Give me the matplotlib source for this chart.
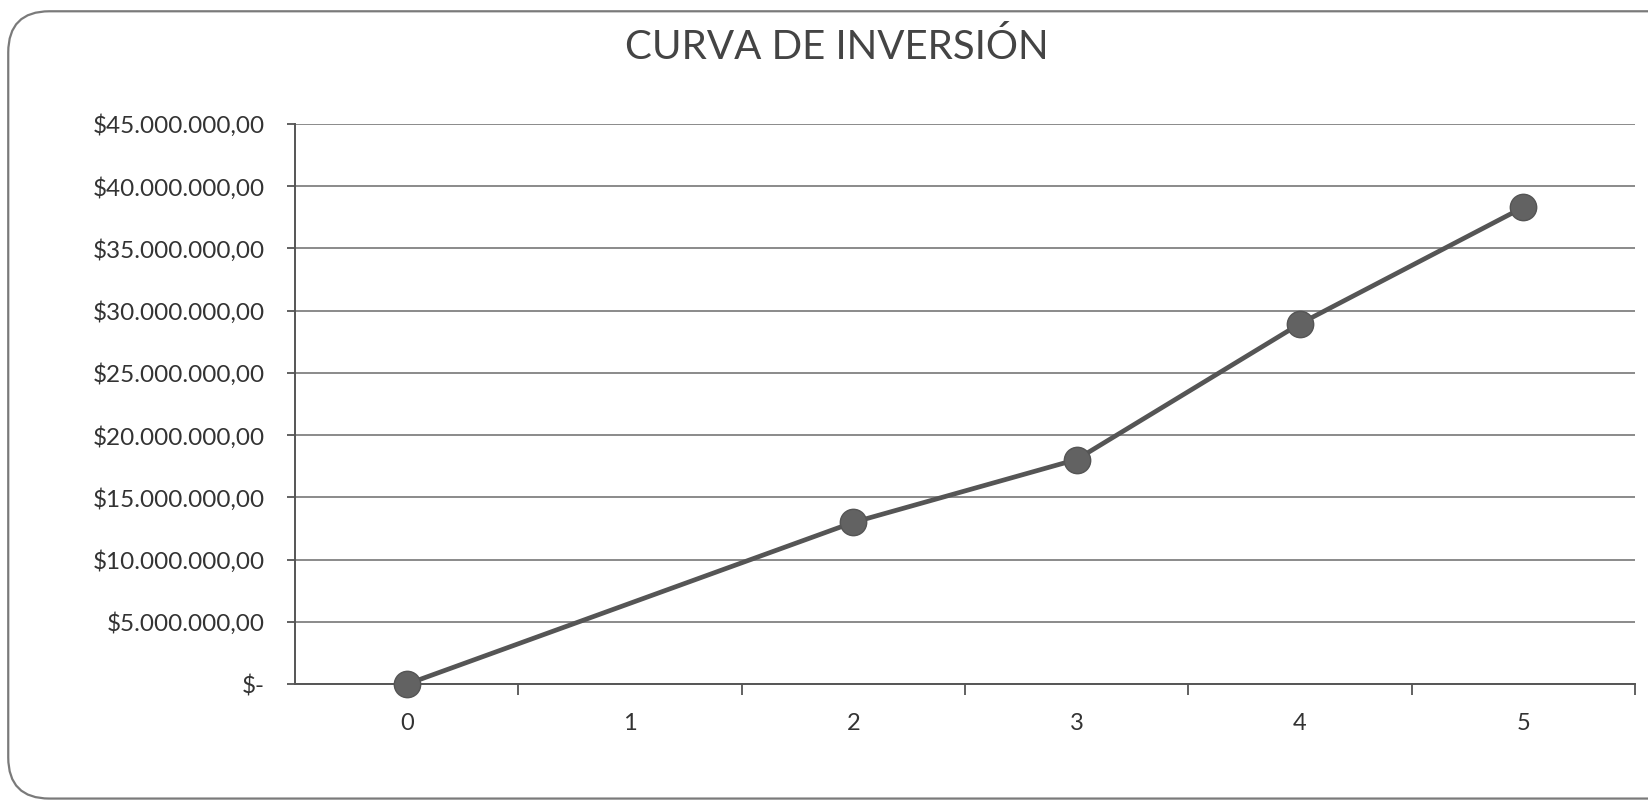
import matplotlib
matplotlib.use('Agg')
import matplotlib.pyplot as plt
from matplotlib.patches import FancyBboxPatch
from matplotlib.ticker import FuncFormatter, FixedLocator
import numpy as np

plt.rcParams['font.family'] = ['Lato', 'DejaVu Sans']

# ---- data ----
title = 'CURVA DE INVERSIÓN'
periods = ['0', '1', '2', '3', '4', '5']
inversion = [0, None, 13_000_000, 18_050_000, 28_950_000, 38_300_000]  # period 1 has no value
y_ticks = [0, 5e6, 10e6, 15e6, 20e6, 25e6, 30e6, 35e6, 40e6, 45e6]

def money(v, pos=None):
    if v == 0:
        return '$-'
    s = f"{v:,.2f}"  # 45,000,000.00
    s = s.replace(',', 'X').replace('.', ',').replace('X', '.')
    return '$' + s

fig = plt.figure(figsize=(16.48, 8.05), dpi=100)
fig.patch.set_facecolor('white')

# rounded chart frame, right side runs off the picture like the scan
frame = FancyBboxPatch((0.005, 0.008), 1.02, 0.978, boxstyle='round,pad=0,rounding_size=0.025',
                       transform=fig.transFigure, facecolor='none', edgecolor='#7a7a7a',
                       linewidth=1.6, mutation_aspect=16.48 / 8.05, clip_on=False)
fig.patches.append(frame)

ax = fig.add_axes([0.179, 0.150, 0.813, 0.696])

# only the points that have a value, joined straight across the gap
idx = [i for i, v in enumerate(inversion) if v is not None]
vals = [inversion[i] for i in idx]
ax.plot(idx, vals, color='#555555', linewidth=3.4, zorder=3, clip_on=False,
        marker='o', markersize=19, markerfacecolor='#626262', markeredgecolor='#555555',
        markeredgewidth=1.0)

ax.set_xlim(-0.5, len(periods) - 0.5)
ax.set_ylim(0, 45e6)

ax.set_xticks(range(len(periods)))
ax.set_xticklabels(periods)
ax.xaxis.set_minor_locator(FixedLocator(np.arange(0.5, len(periods), 1.0)))
ax.tick_params(axis='x', which='major', length=0, pad=21, labelsize=17, labelcolor='#333333')
ax.tick_params(axis='x', which='minor', length=8, width=1.3, color='#555555', direction='out')

ax.set_yticks(y_ticks)
ax.yaxis.set_major_formatter(FuncFormatter(money))
ax.tick_params(axis='y', length=6, width=1.3, color='#555555', pad=16, labelsize=17.5,
               labelcolor='#333333')

ax.grid(axis='y', color='#8a8a8a', linewidth=1.4)
ax.set_axisbelow(True)
for side in ('top', 'right'):
    ax.spines[side].set_visible(False)
for side in ('left', 'bottom'):
    ax.spines[side].set_color('#555555')
    ax.spines[side].set_linewidth(1.4)

fig.text(0.508, 0.942, title, ha='center', va='center', fontsize=29, color='#444444')

fig.savefig('out.png', dpi=100, facecolor='white')
